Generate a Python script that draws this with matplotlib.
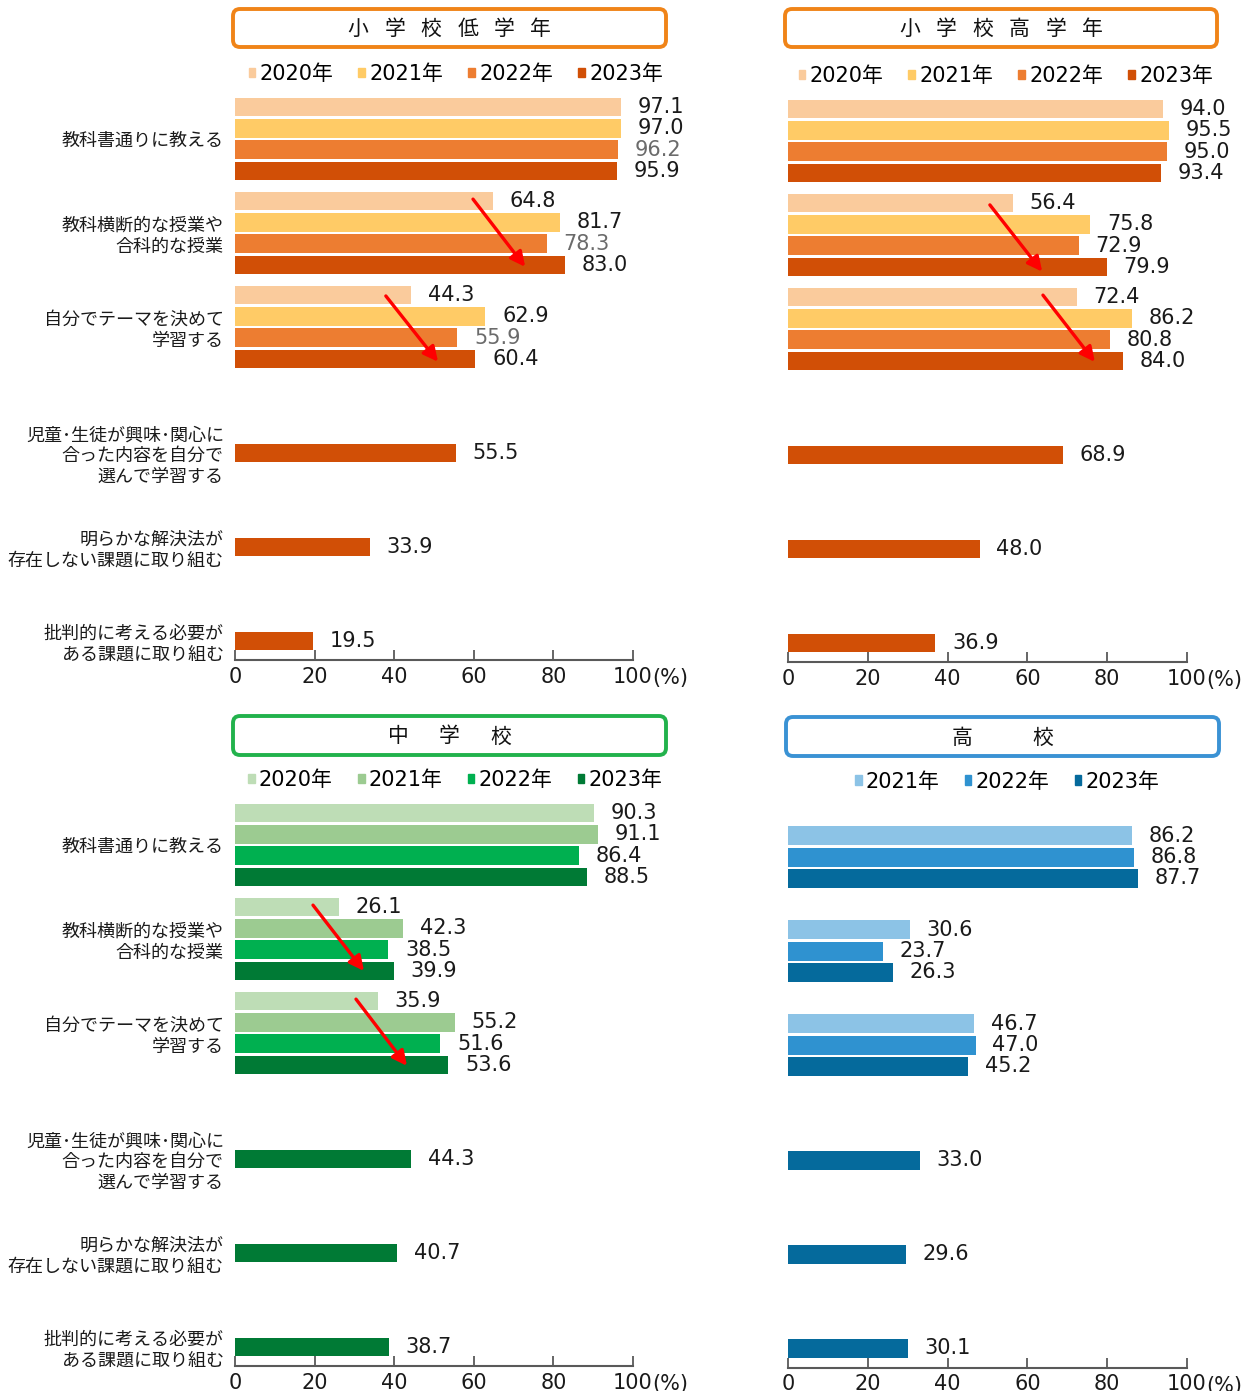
import matplotlib.pyplot as plt
from matplotlib.patches import FancyBboxPatch, Patch

plt.rcParams['font.family'] = ['Noto Sans CJK JP', 'DejaVu Sans']
NUM = ['DejaVu Sans', 'Noto Sans CJK JP']  # cifras anchas, estilo Meiryo

# ---- datos ----
categorias = [
    "教科書通りに教える",
    "教科横断的な授業や\n合科的な授業",
    "自分でテーマを決めて\n学習する",
    "児童･生徒が興味･関心に\n合った内容を自分で\n選んで学習する",
    "明らかな解決法が\n存在しない課題に取り組む",
    "批判的に考える必要が\nある課題に取り組む",
]
anios_4 = ["2020年", "2021年", "2022年", "2023年"]
anios_3 = ["2021年", "2022年", "2023年"]
ticks_x = ["0", "20", "40", "60", "80", "100"]

# 小学校低学年
bajo_2020 = [97.1, 64.8, 44.3]
bajo_2021 = [97.0, 81.7, 62.9]
bajo_2022 = [96.2, 78.3, 55.9]
bajo_2023 = [95.9, 83.0, 60.4, 55.5, 33.9, 19.5]

# 小学校高学年
alto_2020 = [94.0, 56.4, 72.4]
alto_2021 = [95.5, 75.8, 86.2]
alto_2022 = [95.0, 72.9, 80.8]
alto_2023 = [93.4, 79.9, 84.0, 68.9, 48.0, 36.9]

# 中学校
medio_2020 = [90.3, 26.1, 35.9]
medio_2021 = [91.1, 42.3, 55.2]
medio_2022 = [86.4, 38.5, 51.6]
medio_2023 = [88.5, 39.9, 53.6, 44.3, 40.7, 38.7]

# 高校
koko_2021 = [86.2, 30.6, 46.7]
koko_2022 = [86.8, 23.7, 47.0]
koko_2023 = [87.7, 26.3, 45.2, 33.0, 29.6, 30.1]

# flechas rojas (x0, y0, x1, y1) en coordenadas de datos
flechas_bajo = [(59.8, 0.64, 72.9, 1.36), (37.9, 1.67, 51.0, 2.37)]
flechas_alto = [(50.6, 0.68, 63.7, 1.39), (63.9, 1.64, 76.9, 2.35)]
flechas_medio = [(19.6, 0.64, 32.4, 1.34), (30.4, 1.64, 43.2, 2.35)]

W, H = 1248, 1391
fig = plt.figure(figsize=(W / 100, H / 100), dpi=100)

# capa de fondo en pixeles para los recuadros de titulo
deco = fig.add_axes([0, 0, 1, 1], zorder=-1)
deco.set_xlim(0, W)
deco.set_ylim(H, 0)
deco.axis('off')

paso = 0.2266
alto_barra = 0.2


def crear_ejes(l, t, r, b):
    return fig.add_axes([l / W, 1 - b / H, (r - l) / W, (b - t) / H])


def titulo(x0, y0, x1, y1, texto, separacion, color):
    caja = FancyBboxPatch((x0, y0), x1 - x0, y1 - y0,
                          boxstyle="round,pad=0,rounding_size=7",
                          lw=2.8, ec=color, fc='white')
    deco.add_patch(caja)
    cx = (x0 + x1) / 2
    cy = (y0 + y1) / 2
    n = len(texto)
    for k, ch in enumerate(texto):
        deco.text(cx + (k - (n - 1) / 2) * separacion, cy + 1, ch,
                  ha='center', va='center', fontsize=15, color='#111111')


def panel(ax, series, slots, anios, colores, flechas, con_etiquetas,
          gris=None, leyenda_x=0.55):
    for serie, slot, color in zip(series, slots, colores):
        ys = [i + (slot - 1.5) * paso for i in range(len(serie))]
        ax.barh(ys, serie, height=alto_barra, color=color)
        col_txt = '#6b6b6b' if slot == gris else '#1a1a1a'
        for y, v in zip(ys, serie):
            ax.annotate(f"{v:.1f}", (v, y), xytext=(12, 0),
                        textcoords='offset points', ha='left', va='center',
                        fontsize=15, color=col_txt, family=NUM)
    for x0, y0, x1, y1 in flechas:
        ax.annotate("", xy=(x1, y1), xytext=(x0, y0),
                    arrowprops=dict(arrowstyle='-|>', color='#ff0000',
                                    lw=2.4, mutation_scale=22,
                                    shrinkA=0, shrinkB=0))
    ax.set_xlim(0, 100)
    ax.set_ylim(5.543, -0.468)
    ax.set_xticks(range(0, 101, 20))
    ax.set_xticklabels(ticks_x, family=NUM)
    ax.annotate("(%)", (100, 0), xycoords=('data', 'axes fraction'),
                xytext=(14, -13), textcoords='offset points',
                ha='left', va='center', fontsize=15, color='#1a1a1a',
                family=NUM)
    ax.tick_params(axis='x', direction='in', length=7, width=1.3,
                   color='#595959', labelsize=15, pad=5,
                   labelcolor='#1a1a1a')
    ys_tick = [0, 1, 2, 3 + 1.5 * paso, 4 + 1.5 * paso, 5 + 1.5 * paso]
    ax.set_yticks(ys_tick)
    if con_etiquetas:
        ax.set_yticklabels(categorias, fontsize=13, color='#1a1a1a',
                           linespacing=1.2)
        ax.tick_params(axis='y', length=0, pad=8)
    else:
        ax.set_yticklabels([])
        ax.tick_params(axis='y', length=0)
    for s in ['top', 'right', 'left']:
        ax.spines[s].set_visible(False)
    ax.spines['bottom'].set_color('#595959')
    ax.spines['bottom'].set_linewidth(1.5)
    ax.patch.set_alpha(0)
    manijas = [Patch(color=c) for c in colores]
    ax.legend(manijas, anios, ncol=len(anios), loc='center',
              bbox_to_anchor=(leyenda_x, 1 + 21 / 565), frameon=False,
              handlelength=0.33, handleheight=0.33, handletextpad=0.2,
              columnspacing=1.2, prop={'family': NUM, 'size': 15},
              borderpad=0, borderaxespad=0)


naranjas = ['#FACB9C', '#FFCB66', '#ED7D31', '#D14F06']
verdes = ['#BEDDB6', '#9CCB91', '#00B050', '#007A35']
azules = ['#8CC3E6', '#2F92D0', '#056A9C']

ax1 = crear_ejes(235, 95, 633, 660)
panel(ax1, [bajo_2020, bajo_2021, bajo_2022, bajo_2023], [0, 1, 2, 3],
      anios_4, naranjas, flechas_bajo, True, gris=2, leyenda_x=0.555)

ax2 = crear_ejes(788, 97, 1187, 662)
panel(ax2, [alto_2020, alto_2021, alto_2022, alto_2023], [0, 1, 2, 3],
      anios_4, naranjas, flechas_alto, False, leyenda_x=0.546)

ax3 = crear_ejes(235, 801, 633, 1366)
panel(ax3, [medio_2020, medio_2021, medio_2022, medio_2023], [0, 1, 2, 3],
      anios_4, verdes, flechas_medio, True, leyenda_x=0.553)

ax4 = crear_ejes(788, 802.5, 1187, 1367.5)
panel(ax4, [koko_2021, koko_2022, koko_2023], [1, 2, 3],
      anios_3, azules, [], False, leyenda_x=0.549)

titulo(233, 9, 666, 47, "小学校低学年", 36.5, '#F08418')
titulo(785, 9, 1217, 47, "小学校高学年", 36.5, '#F08418')
titulo(233, 716, 666, 755, "中学校", 51, '#22B24C')
titulo(786, 717, 1219, 756, "高校", 80, '#3A92D4')

fig.savefig("out.png", dpi=100)
